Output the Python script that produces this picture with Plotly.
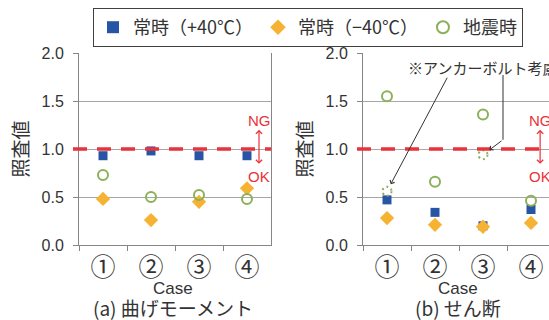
import plotly.graph_objects as go

# ---- data -------------------------------------------------------------
cases = ["①", "②", "③", "④"]

# (a) bending moment
bend_hot = [0.93, 0.98, 0.93, 0.93]      # 常時(+40℃)
bend_cold = [0.48, 0.26, 0.45, 0.59]     # 常時(−40℃)
bend_quake = [0.73, 0.50, 0.52, 0.48]    # 地震時

# (b) shear
shear_hot = [0.47, 0.34, 0.20, 0.37]
shear_cold = [0.28, 0.21, 0.19, 0.23]
shear_quake = [1.55, 0.66, 1.36, 0.46]

# shear, seismic case with anchor bolts taken into account
anchor_cases = ["①", "③"]
anchor_vals = [0.56, 0.94]

limit_value = 1.0

series_names = ["常時（+40℃）", "常時（−40℃）", "地震時"]

# ---- style ------------------------------------------------------------
BLUE = "#2655A6"
ORANGE = "#F6B232"
GREEN = "#8CB05A"
RED = "#E8333A"
TXT = "#333333"
GRID = "#A6A6A6"
AXIS = "#868686"
FONT = "Liberation Sans, Noto Sans CJK JP, sans-serif"
CJK = "Noto Sans CJK JP, Liberation Sans, sans-serif"

W, H = 549, 320
MT, MB = 53, 75
PLOT_H = H - MT - MB


def px_x(p):
    return p / W


def px_y(p):
    return 1 + (MT - p) / PLOT_H


fig = go.Figure()

marker_styles = [
    dict(symbol="square", size=9, color=BLUE),
    dict(symbol="diamond", size=11, color=ORANGE),
    dict(symbol="circle-open", size=10, color=GREEN, line=dict(width=2, color=GREEN)),
]

panels = [
    ("x", "y", [bend_hot, bend_cold, bend_quake], True),
    ("x2", "y2", [shear_hot, shear_cold, shear_quake], False),
]
for xa, ya, series, show in panels:
    for name, vals, mk in zip(series_names, series, marker_styles):
        fig.add_trace(go.Scatter(
            x=cases, y=vals, mode="markers", name=name,
            marker=mk, xaxis=xa, yaxis=ya,
            legendgroup=name, showlegend=show, cliponaxis=False,
        ))

# dotted circles for the anchor-bolt case
for c, v in zip(anchor_cases, anchor_vals):
    fig.add_shape(
        type="circle", xref="x2", yref="y2",
        xsizemode="pixel", ysizemode="pixel",
        xanchor=cases.index(c), yanchor=v,
        x0=-4.5, x1=4.5, y0=-4.5, y1=4.5,
        line=dict(color=GREEN, width=2, dash="2px,3px"),
    )

# limit line at 1.0
for xa, ya, start in (("x", "y", -6 / 192), ("x2", "y2", -6 / 186)):
    fig.add_shape(
        type="line", xref=f"{xa} domain", yref=ya,
        x0=start, x1=1, y0=limit_value, y1=limit_value,
        line=dict(color=RED, width=3.5, dash="14px,10px"),
    )

axis_common = dict(
    type="category", categoryorder="array", categoryarray=cases,
    tickson="boundaries", ticks="outside", ticklen=5, tickcolor=AXIS,
    showline=True, linecolor=AXIS, linewidth=1, showgrid=False,
    tickfont=dict(family=CJK, size=25, color=TXT),
)
yaxis_common = dict(
    range=[0, 2], dtick=0.5, tickformat=".1f",
    ticks="outside", ticklen=5, tickcolor=AXIS, ticklabelstandoff=6,
    showline=True, linecolor=AXIS, linewidth=1,
    showgrid=True, gridcolor=GRID, gridwidth=1, zeroline=False,
    tickfont=dict(family=FONT, size=16, color=TXT),
    title=dict(text="照査値", font=dict(family=CJK, size=19, color=TXT), standoff=7),
)

fig.update_layout(
    width=W, height=H,
    margin=dict(l=0, r=0, t=MT, b=MB),
    paper_bgcolor="white", plot_bgcolor="white",
    font=dict(family=FONT, color=TXT),
    xaxis=dict(domain=[px_x(79), px_x(271)], range=[-0.5, 3.5], anchor="y", **axis_common),
    xaxis2=dict(domain=[px_x(363), 1.0], range=[-0.5, 3.5 - 6 / 48], anchor="y2", **axis_common),
    yaxis=dict(domain=[0, 1], anchor="x", mirror=True, **yaxis_common),
    yaxis2=dict(domain=[0, 1], anchor="x2", **yaxis_common),
    legend=dict(
        orientation="h", x=px_x(308), xanchor="center", y=px_y(8), yanchor="top",
        bordercolor="#404040", borderwidth=1, bgcolor="white",
        font=dict(family=CJK, size=18, color=TXT),
        itemsizing="constant", itemwidth=30, tracegroupgap=0,
    ),
)

annotations = []
# axis titles and panel captions
for cx, caption in ((173, "(a) 曲げモーメント"), (458, "(b) せん断")):
    annotations += [
        dict(text="Case", x=px_x(cx), y=px_y(288), xref="paper", yref="paper",
             xanchor="center", yanchor="middle", showarrow=False,
             font=dict(family=FONT, size=17, color=TXT)),
        dict(text=caption, x=px_x(cx), y=px_y(307), xref="paper", yref="paper",
             xanchor="center", yanchor="middle", showarrow=False,
             font=dict(family=CJK, size=19, color=TXT)),
    ]
# note
annotations.append(dict(
    text="※アンカーボルト考慮", x=px_x(406), y=px_y(67), xref="paper", yref="paper",
    xanchor="left", yanchor="middle", showarrow=False,
    font=dict(family=CJK, size=15, color=TXT),
))

# NG / OK markers on each panel
for xa, ya, xpos in (("x", "y", 3.25), ("x2", "y2", 3.19)):
    annotations += [
        dict(text="NG", x=xpos, y=1.30, xref=xa, yref=ya, showarrow=False,
             font=dict(family=FONT, size=15, color=RED)),
        dict(text="OK", x=xpos, y=0.71, xref=xa, yref=ya, showarrow=False,
             font=dict(family=FONT, size=15, color=RED)),
        dict(text="", x=xpos, y=1.20, ax=xpos, ay=0.83, xref=xa, yref=ya,
             axref=xa, ayref=ya, showarrow=True, arrowside="end+start",
             arrowhead=4, startarrowhead=4, arrowsize=1, startarrowsize=1,
             arrowwidth=1.2, arrowcolor=RED),
    ]

# leader lines from the note to the dotted circles
annotations.append(dict(
    text="", x=cases.index(anchor_cases[0]), y=anchor_vals[0], xref="x2", yref="y2",
    ax=61, ay=-115, showarrow=True, arrowhead=4, arrowsize=1, arrowwidth=1,
    arrowcolor="#333333", standoff=8,
))
annotations.append(dict(
    text="", x=cases.index(anchor_cases[1]), y=anchor_vals[1], xref="x2", yref="y2",
    ax=cases.index(anchor_cases[1]) + 20 / 48, ay=anchor_vals[1] + 15 / 96,
    axref="x2", ayref="y2", showarrow=True, arrowhead=4, arrowsize=1, arrowwidth=1,
    arrowcolor="#333333", standoff=8,
))
fig.add_shape(
    type="line", xref="x2", yref="y2",
    x0=cases.index(anchor_cases[1]) + 20 / 48, x1=cases.index(anchor_cases[1]) + 20 / 48,
    y0=anchor_vals[1] + 15 / 96, y1=(245 - 75) / 96,
    line=dict(color="#333333", width=1),
)

fig.update_layout(annotations=annotations)

fig.write_html("out.html")
